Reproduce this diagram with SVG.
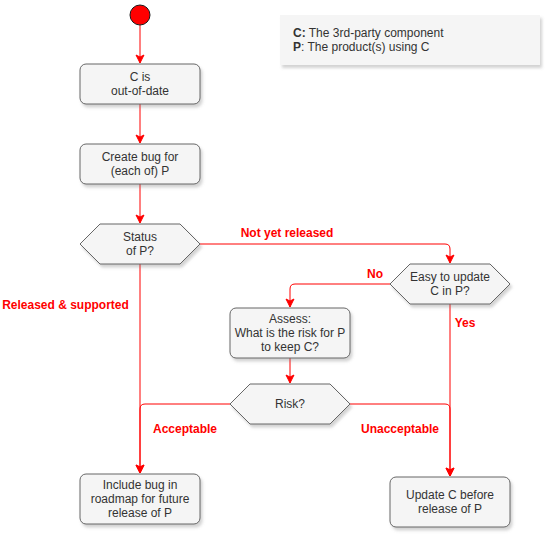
<svg xmlns="http://www.w3.org/2000/svg" width="546" height="535" viewBox="0 0 546 535">
<defs>
<filter id="sh" x="-10%" y="-10%" width="130%" height="140%">
<feDropShadow dx="2" dy="3" stdDeviation="1.5" flood-color="#808080" flood-opacity="0.35"/>
</filter>
<marker id="arr" markerUnits="userSpaceOnUse" markerWidth="10" markerHeight="10" viewBox="0 0 10 10" refX="9" refY="5" orient="auto">
<path d="M1,1 L9,5 L1,9 L3,5 Z" fill="#ff0000" stroke="#ff0000" stroke-width="1"/>
</marker>
</defs>
<style>
.node{fill:#f5f5f5;stroke:#666666;stroke-width:1;filter:url(#sh)}
.t{font-family:"Liberation Sans",Arial,sans-serif;font-size:12px;fill:#333333;text-anchor:middle}
.e{fill:none;stroke:#ff0000;stroke-width:1;marker-end:url(#arr)}
.l{font-family:"Liberation Sans",Arial,sans-serif;font-size:12px;font-weight:bold;fill:#ff0000;text-anchor:middle}
</style>
<rect width="546" height="535" fill="#ffffff"/>
<g id="connectors">
<path class="e" d="M140,25 L140,63"/>
<path class="e" d="M140,104 L140,143"/>
<path class="e" d="M140,184 L140,223"/>
<path class="e" d="M200,244 L445,244 Q450,244 450,249 L450,263"/>
<path class="e" d="M390,284 L295,284 Q290,284 290,289 L290,307"/>
<path class="e" d="M290,358 L290,383"/>
<path class="e" d="M140,264 L140,473"/>
<path class="e" d="M230,404 L145,404 Q140,404 140,409 L140,473"/>
<path class="e" d="M450,304 L450,476"/>
<path class="e" d="M350,404 L445,404 Q450,404 450,409 L450,476"/>
<text class="l" x="287" y="237">Not yet released</text>
<text class="l" x="375" y="278">No</text>
<text class="l" x="465" y="327">Yes</text>
<text class="l" x="65.5" y="309">Released &amp; supported</text>
<text class="l" x="185" y="433">Acceptable</text>
<text class="l" x="400" y="433">Unacceptable</text>
</g>
<g id="start">
<circle cx="140" cy="15" r="10" fill="#ff0000" stroke="#1a1a1a" stroke-width="1"/>
</g>
<g id="note">
<rect x="280" y="15" width="260" height="50" fill="#f5f5f5" filter="url(#sh)"/>
<text x="293" y="37" font-family="Liberation Sans,Arial,sans-serif" font-size="12" fill="#333333"><tspan font-weight="bold">C:</tspan> The 3rd-party component</text>
<text x="293" y="51" font-family="Liberation Sans,Arial,sans-serif" font-size="12" fill="#333333"><tspan font-weight="bold">P</tspan>: The product(s) using C</text>
</g>
<g id="outofdate">
<rect class="node" x="80" y="64" width="120" height="40" rx="6"/>
<text class="t" x="140" y="81.3">C is</text>
<text class="t" x="140" y="95.3">out-of-date</text>
</g>
<g id="createbug">
<rect class="node" x="80" y="144" width="120" height="40" rx="6"/>
<text class="t" x="140" y="161.3">Create bug for</text>
<text class="t" x="140" y="175.3">(each of) P</text>
</g>
<g id="status">
<polygon class="node" points="80,244 100,224 180,224 200,244 180,264 100,264"/>
<text class="t" x="140" y="241.3">Status</text>
<text class="t" x="140" y="255.3">of P?</text>
</g>
<g id="easy">
<polygon class="node" points="390,284 410,264 490,264 510,284 490,304 410,304"/>
<text class="t" x="450" y="281.3">Easy to update</text>
<text class="t" x="450" y="295.3">C in P?</text>
</g>
<g id="assess">
<rect class="node" x="230" y="308" width="120" height="50" rx="6"/>
<text class="t" x="290" y="323.3">Assess:</text>
<text class="t" x="290" y="337.3">What is the risk for P</text>
<text class="t" x="290" y="351.3">to keep C?</text>
</g>
<g id="risk">
<polygon class="node" points="230,404 250,384 330,384 350,404 330,424 250,424"/>
<text class="t" x="290" y="408.3">Risk?</text>
</g>
<g id="include">
<rect class="node" x="80" y="474" width="120" height="50" rx="6"/>
<text class="t" x="140" y="489.3">Include bug in</text>
<text class="t" x="140" y="503.3">roadmap for future</text>
<text class="t" x="140" y="517.3">release of P</text>
</g>
<g id="update">
<rect class="node" x="390" y="477" width="120" height="50" rx="6"/>
<text class="t" x="450" y="499.3">Update C before</text>
<text class="t" x="450" y="513.3">release of P</text>
</g>
</svg>
